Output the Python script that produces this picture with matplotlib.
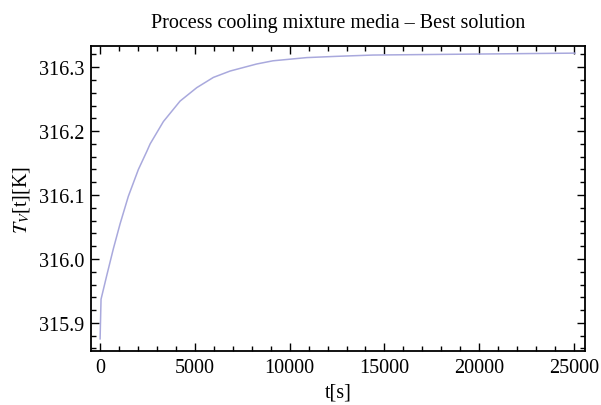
import matplotlib
matplotlib.use("Agg")
import matplotlib.pyplot as plt
from matplotlib.ticker import MultipleLocator, FormatStrFormatter

plt.rcParams['font.family'] = ['Liberation Serif', 'DejaVu Serif']
plt.rcParams['mathtext.fontset'] = 'stix'

# values
t_s = [0, 50, 350, 700, 1055, 1490, 2020, 2460, 2640, 3340, 4220, 5100,
       5975, 6860, 8260, 9120, 10900, 12500, 14400, 17930, 21500, 25050]
T_K = [315.875, 315.937, 315.974, 316.016, 316.055, 316.098, 316.140, 316.168,
       316.180, 316.215, 316.247, 316.268, 316.284, 316.294, 316.305, 316.310,
       316.315, 316.317, 316.319, 316.320, 316.321, 316.322]

fig = plt.figure(figsize=(6.01, 4.06), dpi=100)
ax = fig.add_axes([0.1514, 0.133, 0.822, 0.751])

ax.plot(t_s, T_K, color='#a9a9dd', lw=1.1)

ax.set_xlim(-480, 25580)
ax.set_ylim(315.856, 316.333)

ax.xaxis.set_major_locator(MultipleLocator(5000))
ax.xaxis.set_minor_locator(MultipleLocator(1000))
ax.yaxis.set_major_locator(MultipleLocator(0.1))
ax.yaxis.set_minor_locator(MultipleLocator(0.02))
ax.yaxis.set_major_formatter(FormatStrFormatter('%.1f'))

ax.tick_params(which='both', direction='in', top=True, right=True,
               width=1.0, labelsize=14.5, colors='black')
ax.tick_params(which='major', length=6, pad=5)
ax.tick_params(which='minor', length=3.5)
for s in ax.spines.values():
    s.set_linewidth(1.3)

ax.set_title('Process cooling mixture media \u2013 Best solution', fontsize=14.5, pad=14)
ax.set_xlabel('t[s]', fontsize=14.5, labelpad=4)
ax.set_ylabel(r'$T_V$[t][K]', fontsize=14.5, labelpad=5)

fig.savefig('out.png', dpi=100)
